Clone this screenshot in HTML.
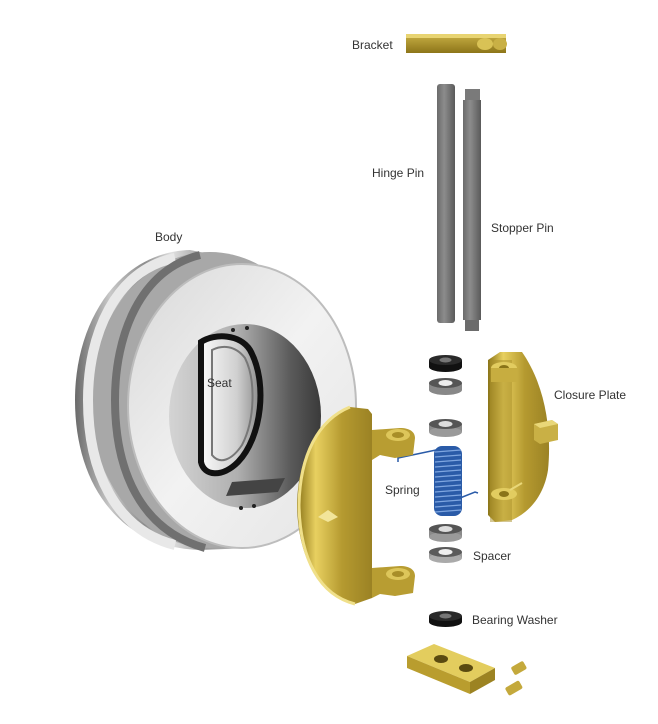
<!DOCTYPE html>
<html><head><meta charset="utf-8"><style>
html,body{margin:0;padding:0;background:#fff;width:658px;height:724px;overflow:hidden}
svg{display:block}
text{font-family:"Liberation Sans",sans-serif;font-size:12px;fill:#333}
</style></head><body>
<svg width="658" height="724" viewBox="0 0 658 724" xmlns="http://www.w3.org/2000/svg">
<defs>
<linearGradient id="gold" x1="0" x2="1" y1="0" y2="0">
<stop offset="0" stop-color="#8a7418"/><stop offset="0.25" stop-color="#e8d060"/><stop offset="0.6" stop-color="#b59a30"/><stop offset="1" stop-color="#9b8224"/></linearGradient>
<linearGradient id="gold2" x1="0" x2="0" y1="0" y2="1">
<stop offset="0" stop-color="#c9b045"/><stop offset="1" stop-color="#8d7519"/></linearGradient>
<linearGradient id="steel" x1="0" x2="1" y1="0" y2="0">
<stop offset="0" stop-color="#6a6a6a"/><stop offset="0.2" stop-color="#c8c8c8"/><stop offset="0.4" stop-color="#8c8c8c"/><stop offset="0.55" stop-color="#e0e0e0"/><stop offset="0.75" stop-color="#9a9a9a"/><stop offset="1" stop-color="#c0c0c0"/></linearGradient>
<linearGradient id="face" x1="0" x2="1" y1="0" y2="1">
<stop offset="0" stop-color="#d8d8d8"/><stop offset="0.5" stop-color="#f2f2f2"/><stop offset="1" stop-color="#e4e4e4"/></linearGradient>
<linearGradient id="bore" x1="0" x2="1" y1="0" y2="0">
<stop offset="0" stop-color="#d4d4d4"/><stop offset="0.45" stop-color="#b0b0b0"/><stop offset="0.8" stop-color="#5a5a5a"/><stop offset="1" stop-color="#3a3a3a"/></linearGradient>
<linearGradient id="seatg" x1="0" x2="1"><stop offset="0" stop-color="#fafafa"/><stop offset="0.6" stop-color="#d0d0d0"/><stop offset="1" stop-color="#8a8a8a"/></linearGradient>
<linearGradient id="pin" x1="0" x2="1"><stop offset="0" stop-color="#6b6b6b"/><stop offset="0.4" stop-color="#8c8c8c"/><stop offset="1" stop-color="#5a5a5a"/></linearGradient>
</defs>

<!-- Body -->
<path d="M190 250 C120 252 75 320 75 400 C75 485 120 548 200 550 L250 548 L250 262 Z" fill="url(#steel)"/>
<ellipse cx="210" cy="400" rx="120" ry="148" fill="#a8a8a8"/>
<path d="M175 258 C115 270 88 335 88 400 C88 470 115 530 175 545" fill="none" stroke="#e8e8e8" stroke-width="10"/>
<path d="M200 255 C140 270 115 335 115 400 C115 470 140 530 205 548" fill="none" stroke="#707070" stroke-width="8"/>
<ellipse cx="242" cy="406" rx="114" ry="142" fill="url(#face)"/>
<ellipse cx="242" cy="406" rx="114" ry="142" fill="none" stroke="#bdbdbd" stroke-width="2"/>
<ellipse cx="245" cy="416" rx="76" ry="92" fill="url(#bore)"/>
<path d="M201 342 L201 462 C204 476 222 478 238 462 C262 437 268 382 250 350 C240 334 215 333 201 342 Z" fill="url(#seatg)" stroke="#111" stroke-width="6"/>
<path d="M212 350 L212 455 C220 465 232 460 242 445 C255 420 256 380 245 358 C235 345 222 345 212 350 Z" fill="none" stroke="#777" stroke-width="2"/>
<path d="M232 482 L285 478 L278 492 L226 496 Z" fill="#444"/>
<circle cx="233" cy="330" r="2" fill="#222"/><circle cx="247" cy="328" r="2" fill="#222"/>
<circle cx="241" cy="508" r="2" fill="#222"/><circle cx="254" cy="506" r="2" fill="#222"/>
<text x="207" y="387">Seat</text>
<text x="155" y="241">Body</text>

<!-- Bracket -->
<rect x="406" y="34" width="100" height="19" fill="url(#gold2)"/>
<rect x="406" y="34" width="100" height="4" fill="#e8d472"/>
<ellipse cx="485" cy="44" rx="8" ry="6" fill="#d9c255"/><ellipse cx="500" cy="44" rx="7" ry="6" fill="#c9b045"/>
<text x="352" y="49">Bracket</text>

<!-- Pins -->
<rect x="437" y="84" width="18" height="239" rx="3" fill="url(#pin)"/>
<rect x="465" y="89" width="15" height="12" fill="#7a7a7a"/>
<rect x="463" y="100" width="18" height="220" fill="url(#pin)"/>
<rect x="465" y="320" width="14" height="11" fill="#6c6c6c"/>
<text x="372" y="177">Hinge Pin</text>
<text x="491" y="232">Stopper Pin</text>

<!-- Washers -->
<g>
<rect x="429" y="360" width="33" height="7" fill="#111"/><ellipse cx="445.5" cy="367" rx="16.5" ry="5" fill="#111"/><ellipse cx="445.5" cy="360" rx="16.5" ry="5" fill="#2a2a2a"/><ellipse cx="445.5" cy="360" rx="6" ry="2.5" fill="#777"/>
<rect x="429" y="383" width="33" height="7" fill="#888"/><ellipse cx="445.5" cy="390" rx="16.5" ry="5" fill="#888"/><ellipse cx="445.5" cy="383" rx="16.5" ry="5" fill="#555"/><ellipse cx="445.5" cy="383" rx="7" ry="3" fill="#eee"/>
<rect x="429" y="424" width="33" height="8" fill="#8a8a8a"/><ellipse cx="445.5" cy="432" rx="16.5" ry="5" fill="#9a9a9a"/><ellipse cx="445.5" cy="424" rx="16.5" ry="5" fill="#555"/><ellipse cx="445.5" cy="424" rx="7" ry="3" fill="#ddd"/>
<rect x="429" y="529" width="33" height="8" fill="#8a8a8a"/><ellipse cx="445.5" cy="537" rx="16.5" ry="5" fill="#9a9a9a"/><ellipse cx="445.5" cy="529" rx="16.5" ry="5" fill="#555"/><ellipse cx="445.5" cy="529" rx="7" ry="3" fill="#ddd"/>
<rect x="429" y="552" width="33" height="6" fill="#999"/><ellipse cx="445.5" cy="558" rx="16.5" ry="5" fill="#aaa"/><ellipse cx="445.5" cy="552" rx="16.5" ry="5" fill="#5a5a5a"/><ellipse cx="445.5" cy="552" rx="7" ry="3" fill="#eee"/>
<rect x="429" y="616" width="33" height="6" fill="#111"/><ellipse cx="445.5" cy="622" rx="16.5" ry="5" fill="#111"/><ellipse cx="445.5" cy="616" rx="16.5" ry="5" fill="#2a2a2a"/><ellipse cx="445.5" cy="616" rx="6" ry="2.5" fill="#777"/>
</g>
<text x="473" y="560">Spacer</text>
<text x="472" y="624">Bearing Washer</text>

<!-- Spring -->
<rect x="434" y="446" width="28" height="70" rx="8" fill="#2a5ba8"/>
<g stroke="#7fa6e0" stroke-width="1.2">
<line x1="435" y1="452" x2="461" y2="450"/><line x1="435" y1="457" x2="461" y2="455"/><line x1="435" y1="462" x2="461" y2="460"/><line x1="435" y1="467" x2="461" y2="465"/><line x1="435" y1="472" x2="461" y2="470"/><line x1="435" y1="477" x2="461" y2="475"/><line x1="435" y1="482" x2="461" y2="480"/><line x1="435" y1="487" x2="461" y2="485"/><line x1="435" y1="492" x2="461" y2="490"/><line x1="435" y1="497" x2="461" y2="495"/><line x1="435" y1="502" x2="461" y2="500"/><line x1="435" y1="507" x2="461" y2="505"/><line x1="435" y1="512" x2="461" y2="510"/>
</g>
<path d="M436 450 L398 458 L398 462" fill="none" stroke="#2a5ba8" stroke-width="1.5"/>
<path d="M460 498 L475 492 L478 493" fill="none" stroke="#2a5ba8" stroke-width="1.5"/>
<text x="385" y="494">Spring</text>

<!-- Left closure plate -->
<path d="M350 407 L368 409 L372 414 L372 598 L355 604 C320 595 298 560 297 505 C298 455 318 420 350 407 Z" fill="url(#gold)"/>
<path d="M350 407 C318 420 300 455 299 505 C300 560 320 595 355 604" fill="none" stroke="#f0e08a" stroke-width="3"/>
<path d="M372 430 L400 428 C410 428 415 432 415 438 L413 455 L395 458 L380 455 L372 460 Z" fill="#b89d32"/>
<ellipse cx="398" cy="435" rx="12" ry="6" fill="#ddc65a"/><ellipse cx="398" cy="435" rx="6" ry="3" fill="#a88e28"/>
<path d="M372 568 L400 566 C410 566 415 570 415 576 L413 593 L395 596 L380 594 L372 598 Z" fill="#b89d32"/>
<ellipse cx="398" cy="574" rx="12" ry="6" fill="#ddc65a"/><ellipse cx="398" cy="574" rx="6" ry="3" fill="#a88e28"/>
<path d="M318 517 L328 510 L338 517 L328 522 Z" fill="#f2e59a"/>

<!-- Right closure plate -->
<path d="M488 360 L500 352 L522 352 C545 385 552 430 548 470 C544 495 530 512 512 520 L495 522 L488 515 Z" fill="url(#gold)"/>
<rect x="490" y="360" width="22" height="162" fill="#a98f2a" opacity="0.5"/>
<ellipse cx="504" cy="368" rx="13" ry="6" fill="#e2cc60"/><ellipse cx="504" cy="368" rx="5" ry="3" fill="#8a7418"/>
<rect x="491" y="368" width="26" height="14" fill="#c7ad40"/>
<ellipse cx="504" cy="494" rx="13" ry="6" fill="#e2cc60"/><ellipse cx="504" cy="494" rx="5" ry="3" fill="#8a7418"/>
<path d="M510 490 L522 483" stroke="#e9d778" stroke-width="2"/>
<path d="M534 424 L552 420 L558 424 L558 440 L540 444 L534 440 Z" fill="#c9b045"/>
<path d="M534 424 L552 420 L558 424 L540 428 Z" fill="#e9d778"/>
<text x="554" y="399">Closure Plate</text>

<!-- Bottom block -->
<path d="M407 656 L434 644 L495 668 L470 682 Z" fill="#e3cd5e"/>
<path d="M407 656 L470 682 L470 694 L407 668 Z" fill="#b99d2e"/>
<path d="M470 682 L495 668 L495 680 L470 694 Z" fill="#9c8322"/>
<ellipse cx="441" cy="659" rx="7" ry="4" fill="#5a4a10"/><ellipse cx="466" cy="668" rx="7" ry="4" fill="#5a4a10"/>
<g transform="rotate(-30 515 688)"><rect x="506" y="683" width="16" height="9" rx="2" fill="#c4a93c"/></g>
<g transform="rotate(-30 520 668)"><rect x="512" y="663" width="14" height="9" rx="2" fill="#c4a93c"/></g>
</svg>
</body></html>
